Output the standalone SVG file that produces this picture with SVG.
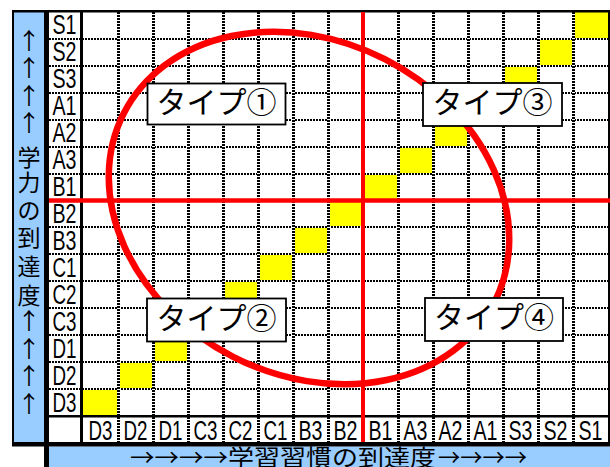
<svg xmlns="http://www.w3.org/2000/svg" width="610" height="467" viewBox="0 0 610 467">
<style>
.blk{fill:#000}
.blue{fill:#99CCFF}
.yel{fill:#FFFF00}
.gw{stroke:#fff;fill:none;shape-rendering:crispEdges}
.gd{stroke:#000;fill:none;stroke-dasharray:2 1;shape-rendering:crispEdges}
.lab{font-family:"Liberation Sans",Arial,sans-serif;font-size:27px;fill:#000;text-anchor:middle}
.jp{font-family:"Noto Sans CJK JP","Noto Sans",sans-serif;fill:#000}
.ax{font-size:23px;text-anchor:middle}
.bx{fill:#fff;stroke:#000;stroke-width:1.8}
.bt{font-size:30px;text-anchor:middle}
.red{stroke:#FF0000;fill:none}
</style>
<defs>
<path id="hg" d="M49 39H608M49 66H608M49 93H608M49 120H608M49 147H608M49 174H608M49 201H608M49 227H608M49 254H608M49 281H608M49 308H608M49 335H608M49 362H608M49 389H608"/>
<path id="vg" d="M118 12V442M153 12V442M188 12V442M223 12V442M258 12V442M293 12V442M328 12V442M363 12V442M398 12V442M433 12V442M468 12V442M503 12V442M538 12V442M573 12V442"/>
</defs>
<rect width="610" height="467" fill="#fff"/>
<g id="cells">
<rect class="yel" x="573" y="12" width="35" height="27"/>
<rect class="yel" x="538" y="39" width="35" height="27"/>
<rect class="yel" x="503" y="66" width="35" height="27"/>
<rect class="yel" x="468" y="93" width="35" height="27"/>
<rect class="yel" x="433" y="120" width="35" height="27"/>
<rect class="yel" x="398" y="147" width="35" height="27"/>
<rect class="yel" x="363" y="174" width="35" height="27"/>
<rect class="yel" x="328" y="201" width="35" height="26"/>
<rect class="yel" x="293" y="227" width="35" height="27"/>
<rect class="yel" x="258" y="254" width="35" height="27"/>
<rect class="yel" x="223" y="281" width="35" height="27"/>
<rect class="yel" x="188" y="308" width="35" height="27"/>
<rect class="yel" x="153" y="335" width="35" height="27"/>
<rect class="yel" x="118" y="362" width="35" height="27"/>
<rect class="yel" x="83" y="389" width="35" height="27"/>
</g>
<g id="grid">
<use href="#hg" class="gw" stroke-width="2"/>
<use href="#hg" class="gd" stroke-width="2"/>
<use href="#vg" class="gw" stroke-width="3"/>
<use href="#vg" class="gd" stroke-width="3"/>
</g>
<g id="frame">
<rect class="blue" x="14" y="12" width="30" height="430"/>
<rect class="blue" x="49" y="446.5" width="561" height="20.5"/>
<rect class="blk" x="12" y="10" width="598" height="2.5"/>
<rect class="blk" x="12" y="10" width="2" height="436"/>
<rect class="blk" x="44" y="10" width="5" height="457"/>
<rect class="blk" x="80" y="10" width="3" height="432"/>
<rect class="blk" x="49" y="415" width="561" height="2.5"/>
<rect class="blk" x="12" y="442" width="598" height="4.5"/>
<rect class="blk" x="608" y="10" width="2" height="436"/>
</g>
<g id="row-labels">
<text class="lab" x="64.5" y="34.4" textLength="24" lengthAdjust="spacingAndGlyphs">S1</text>
<text class="lab" x="64.5" y="61.4" textLength="24" lengthAdjust="spacingAndGlyphs">S2</text>
<text class="lab" x="64.5" y="88.3" textLength="24" lengthAdjust="spacingAndGlyphs">S3</text>
<text class="lab" x="64.5" y="115.2" textLength="24" lengthAdjust="spacingAndGlyphs">A1</text>
<text class="lab" x="64.5" y="142.2" textLength="24" lengthAdjust="spacingAndGlyphs">A2</text>
<text class="lab" x="64.5" y="169.1" textLength="24" lengthAdjust="spacingAndGlyphs">A3</text>
<text class="lab" x="64.5" y="196" textLength="24" lengthAdjust="spacingAndGlyphs">B1</text>
<text class="lab" x="64.5" y="222.9" textLength="24" lengthAdjust="spacingAndGlyphs">B2</text>
<text class="lab" x="64.5" y="249.9" textLength="24" lengthAdjust="spacingAndGlyphs">B3</text>
<text class="lab" x="64.5" y="276.8" textLength="24" lengthAdjust="spacingAndGlyphs">C1</text>
<text class="lab" x="64.5" y="303.7" textLength="24" lengthAdjust="spacingAndGlyphs">C2</text>
<text class="lab" x="64.5" y="330.7" textLength="24" lengthAdjust="spacingAndGlyphs">C3</text>
<text class="lab" x="64.5" y="357.6" textLength="24" lengthAdjust="spacingAndGlyphs">D1</text>
<text class="lab" x="64.5" y="384.5" textLength="24" lengthAdjust="spacingAndGlyphs">D2</text>
<text class="lab" x="64.5" y="411.5" textLength="24" lengthAdjust="spacingAndGlyphs">D3</text>
</g>
<g id="col-labels">
<text class="lab" x="100.5" y="439.5" textLength="24" lengthAdjust="spacingAndGlyphs">D3</text>
<text class="lab" x="135.5" y="439.5" textLength="24" lengthAdjust="spacingAndGlyphs">D2</text>
<text class="lab" x="170.5" y="439.5" textLength="24" lengthAdjust="spacingAndGlyphs">D1</text>
<text class="lab" x="205.5" y="439.5" textLength="24" lengthAdjust="spacingAndGlyphs">C3</text>
<text class="lab" x="240.5" y="439.5" textLength="24" lengthAdjust="spacingAndGlyphs">C2</text>
<text class="lab" x="275.5" y="439.5" textLength="24" lengthAdjust="spacingAndGlyphs">C1</text>
<text class="lab" x="310.5" y="439.5" textLength="24" lengthAdjust="spacingAndGlyphs">B3</text>
<text class="lab" x="345.5" y="439.5" textLength="24" lengthAdjust="spacingAndGlyphs">B2</text>
<text class="lab" x="380.5" y="439.5" textLength="24" lengthAdjust="spacingAndGlyphs">B1</text>
<text class="lab" x="415.5" y="439.5" textLength="24" lengthAdjust="spacingAndGlyphs">A3</text>
<text class="lab" x="450.5" y="439.5" textLength="24" lengthAdjust="spacingAndGlyphs">A2</text>
<text class="lab" x="485.5" y="439.5" textLength="24" lengthAdjust="spacingAndGlyphs">A1</text>
<text class="lab" x="520.5" y="439.5" textLength="24" lengthAdjust="spacingAndGlyphs">S3</text>
<text class="lab" x="555.5" y="439.5" textLength="24" lengthAdjust="spacingAndGlyphs">S2</text>
<text class="lab" x="590.5" y="439.5" textLength="24" lengthAdjust="spacingAndGlyphs">S1</text>
</g>
<g id="y-axis-title" class="jp ax">
<text x="29" y="48.5">↑</text>
<text x="29" y="76">↑</text>
<text x="29" y="103.5">↑</text>
<text x="29" y="131">↑</text>
<text x="29" y="166">学</text>
<text x="29" y="191">力</text>
<text x="29" y="218.5">の</text>
<text x="29" y="246">到</text>
<text x="29" y="274.5">達</text>
<text x="29" y="303.5">度</text>
<text x="29" y="328.5">↑</text>
<text x="29" y="356.5">↑</text>
<text x="29" y="383.5">↑</text>
<text x="29" y="411.5">↑</text>
</g>
<g id="x-axis-title" class="jp" font-size="23">
<text x="130" y="465.5" textLength="98" lengthAdjust="spacingAndGlyphs">→→→→</text>
<text x="228" y="465.5" textLength="208" lengthAdjust="spacingAndGlyphs">学習習慣の到達度</text>
<text x="438" y="465.5" textLength="89" lengthAdjust="spacingAndGlyphs">→→→→</text>
</g>
<g id="connectors">
<path class="red" stroke-width="4" d="M363 12V442"/>
<path class="red" stroke-width="4.5" d="M49 200.5H610"/>
<ellipse class="red" stroke-width="6.5" cx="309" cy="208" rx="208" ry="167" transform="rotate(27 309 208)"/>
</g>
<g id="type1">
<rect class="bx" x="147.5" y="83.5" width="138" height="41"/>
<text class="jp bt" x="216.5" y="112.5">タイプ①</text>
</g>
<g id="type3">
<rect class="bx" x="423" y="83" width="139" height="43"/>
<text class="jp bt" x="492.5" y="113">タイプ③</text>
</g>
<g id="type2">
<rect class="bx" x="147" y="298.5" width="139" height="43"/>
<text class="jp bt" x="216.5" y="328.5">タイプ②</text>
</g>
<g id="type4">
<rect class="bx" x="425" y="298" width="138" height="43"/>
<text class="jp bt" x="494" y="328">タイプ④</text>
</g>
</svg>
